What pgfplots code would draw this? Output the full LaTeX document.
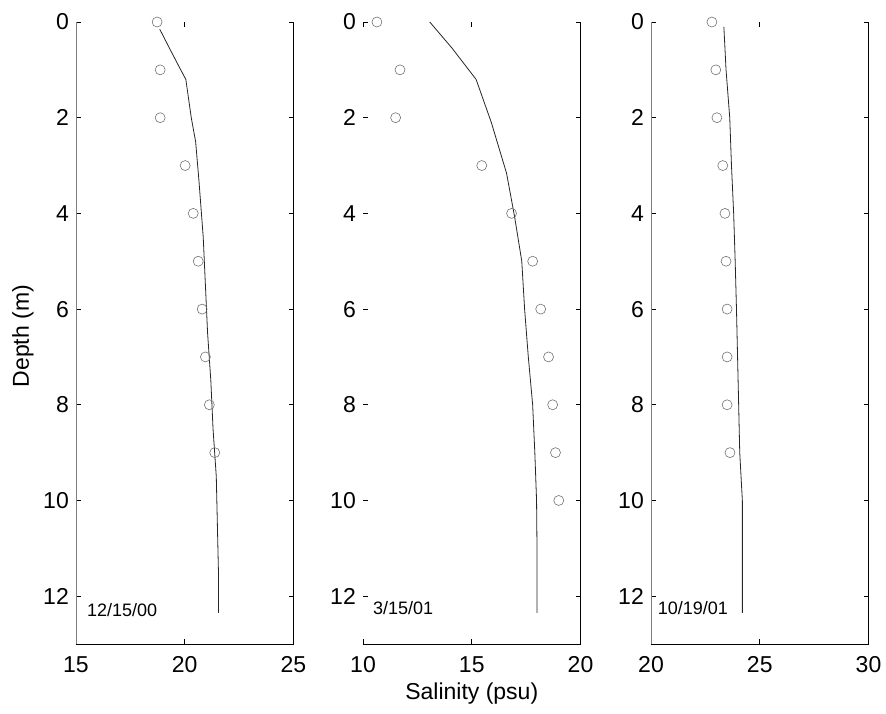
\documentclass[border=0pt]{standalone}
\usepackage{pgfplots}
\pgfplotsset{compat=1.18}
\usepackage{fontspec}
\setmainfont{Liberation Sans}
\tikzset{date/.style={anchor=west, font=\fontsize{18}{21}\selectfont}}
\pgfplotsset{
  panel/.style={
    scale only axis, width=217.5pt, height=622pt,
    y dir=reverse, ymin=0, ymax=13, ytick={0,2,...,12},
    axis line style={draw=none},
    tick align=inside, major tick length=5pt,
    every tick/.style={black, line width=0.6pt},
    /pgf/number format/assume math mode=true,
    tick label style={font=\fontsize{23}{27}\selectfont},
    label style={font=\fontsize{23}{27}\selectfont},
    xticklabel style={inner sep=0pt, anchor=north, yshift=-12pt},
    yticklabel style={inner sep=0pt, anchor=east, xshift=-7pt},
    clip=false,
  },
  obs/.style={only marks, mark=o, mark size=5pt, color=black!55, mark options={line width=0.6pt}},
  mod/.style={no marks, color=black!85, line width=0.8pt},
}
\begin{document}
\begin{tikzpicture}
\path[use as bounding box] (-76pt,-69pt) rectangle (810pt,644pt);
% Panel 1
\begin{axis}[panel, at={(0pt,0pt)}, xmin=15, xmax=25, xtick={15,20,25},
  ylabel={Depth (m)},
  ylabel style={at={(axis description cs:-0.244,0.495)}, anchor=center}]
\draw[black!50, line width=0.8pt] (axis cs:15,0) -- (axis cs:15,13);
\draw[black, line width=0.8pt] (axis cs:15,13) -- (axis cs:25,13) -- (axis cs:25,0);
\addplot[mod] coordinates {(18.85,0.15) (19.3,0.55) (19.7,0.9) (20.05,1.2) (20.3,2.0) (20.5,2.5) (20.65,3.3) (20.75,3.9) (20.85,4.5) (20.95,5.5) (21.05,6.5) (21.2,7.5) (21.3,8.5) (21.45,9.5) (21.5,10.5) (21.55,11.5) (21.55,12.35)};
\addplot[obs] coordinates {(18.73,0) (18.87,1) (18.87,2) (20.02,3) (20.39,4) (20.62,5) (20.8,6) (20.95,7) (21.13,8) (21.38,9)};
\node[date] at (axis cs:15.35,12.3) {12/15/00};
\end{axis}
% Panel 2
\begin{axis}[panel, at={(287pt,0pt)}, xmin=10, xmax=20, xtick={10,15,20},
  xlabel={Salinity (psu)}, xlabel style={yshift=-7pt}]
\draw[black, line width=0.8pt] (axis cs:10,13) -- (axis cs:20,13) -- (axis cs:20,0);
\addplot[mod] coordinates {(13.07,0) (14.1,0.55) (15.2,1.2) (15.9,2.1) (16.6,3.16) (16.97,4.07) (17.3,5) (17.43,6) (17.6,7) (17.8,8) (17.9,9) (17.98,10) (18.0,11) (18.0,12.35)};
\addplot[obs] coordinates {(10.64,0) (11.7,1) (11.5,2) (15.46,3) (16.83,4) (17.8,5) (18.17,6) (18.53,7) (18.72,8) (18.85,9) (19.0,10)};
\node[date] at (axis cs:10.3,12.25) {3/15/01};
\end{axis}
% Panel 3
\begin{axis}[panel, at={(575pt,0pt)}, xmin=20, xmax=30, xtick={20,25,30}]
\draw[black!50, line width=0.8pt] (axis cs:20,0) -- (axis cs:20,13);
\draw[black, line width=0.8pt] (axis cs:20,13) -- (axis cs:30,13) -- (axis cs:30,0);
\addplot[mod] coordinates {(23.35,0.1) (23.45,1) (23.62,2) (23.7,3) (23.8,4) (23.87,5) (23.93,6) (23.98,7) (24.03,8) (24.08,9) (24.2,10) (24.2,11) (24.2,12.35)};
\addplot[obs] coordinates {(22.8,0) (22.98,1) (23.03,2) (23.3,3) (23.4,4) (23.45,5) (23.5,6) (23.5,7) (23.5,8) (23.63,9)};
\node[date] at (axis cs:20.15,12.25) {10/19/01};
\end{axis}
\end{tikzpicture}
\end{document}
